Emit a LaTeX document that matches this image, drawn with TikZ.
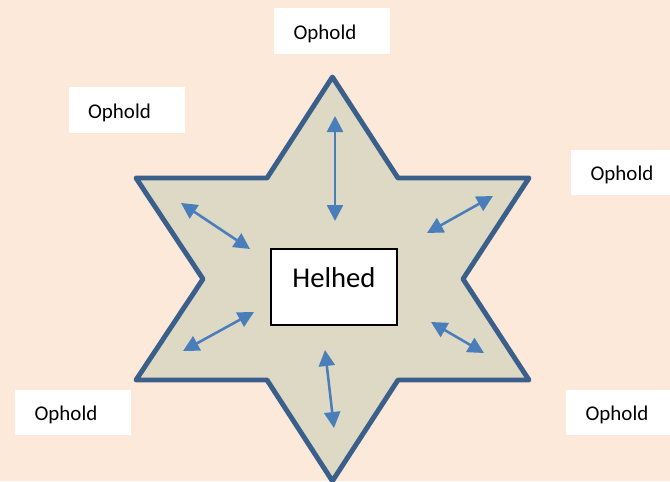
\documentclass[tikz,border=0pt]{standalone}
\usepackage{fontspec}
\setmainfont{Carlito}
\usetikzlibrary{arrows.meta}
\definecolor{baggrund}{HTML}{FDE9DA}
\definecolor{stjernefyld}{HTML}{DDD9C4}
\definecolor{stjernekant}{HTML}{3A5F8B}
\definecolor{pilblaa}{HTML}{4A7EBB}

\begin{document}
\begin{tikzpicture}[
		ophold/.style={fill=white, text width=1.92cm, inner xsep=0.49cm, inner ysep=0, text height=0.78cm, text depth=0.36cm, align=left, font=\fontsize{14.9}{18}\selectfont},
		pil/.style={{Triangle[length=0.4cm, width=0.4cm]}-{Triangle[length=0.4cm, width=0.4cm]}, line width=1.8pt, pilblaa}]
			\clip (0,0) rectangle (16.75,12.025);
			\fill [baggrund] (0,0) rectangle (16.75,12.025);
			\draw [fill=stjernefyld, draw=stjernekant, line width=3.5pt, line join=round] (8.31,10.1) -- (9.95,7.575) -- (13.225,7.575) -- (11.575,5.05) -- (13.225,2.525) -- (9.95,2.525) -- (8.31,0) -- (6.675,2.525) -- (3.4,2.525) -- (5.075,5.05) -- (3.4,7.575) -- (6.675,7.575) -- cycle;
			\draw [pil] (8.375,9.125) -- (8.375,6.5);
			\draw [pil] (4.525,6.95) -- (6.25,5.8);
			\draw [pil] (10.675,6.2) -- (12.325,7.125);
			\draw [pil] (4.575,3.25) -- (6.35,4.225);
			\draw [pil] (10.775,3.975) -- (12.1,3.2);
			\draw [pil] (8.125,3.275) -- (8.35,1.325);
			\node [draw, fill=white, line width=0.8pt, minimum width=3.15cm, inner sep=0, text height=0.95cm, text depth=0.95cm, font=\fontsize{20.4}{24}\selectfont] (helhed) at (8.35,4.85) {Helhed};
			\node [ophold] (ophold-top) at (8.3,11.25) {Ophold};
			\node [ophold] (ophold-venstre) at (3.1625,9.275) {Ophold};
			\node [ophold] (ophold-hoejre) at (15.725,7.7125) {Ophold};
			\node [ophold] (ophold-nedvenstre) at (1.825,1.7125) {Ophold};
			\node [ophold] (ophold-nedhoejre) at (15.6,1.7125) {Ophold};
	\end{tikzpicture}
\end{document}
